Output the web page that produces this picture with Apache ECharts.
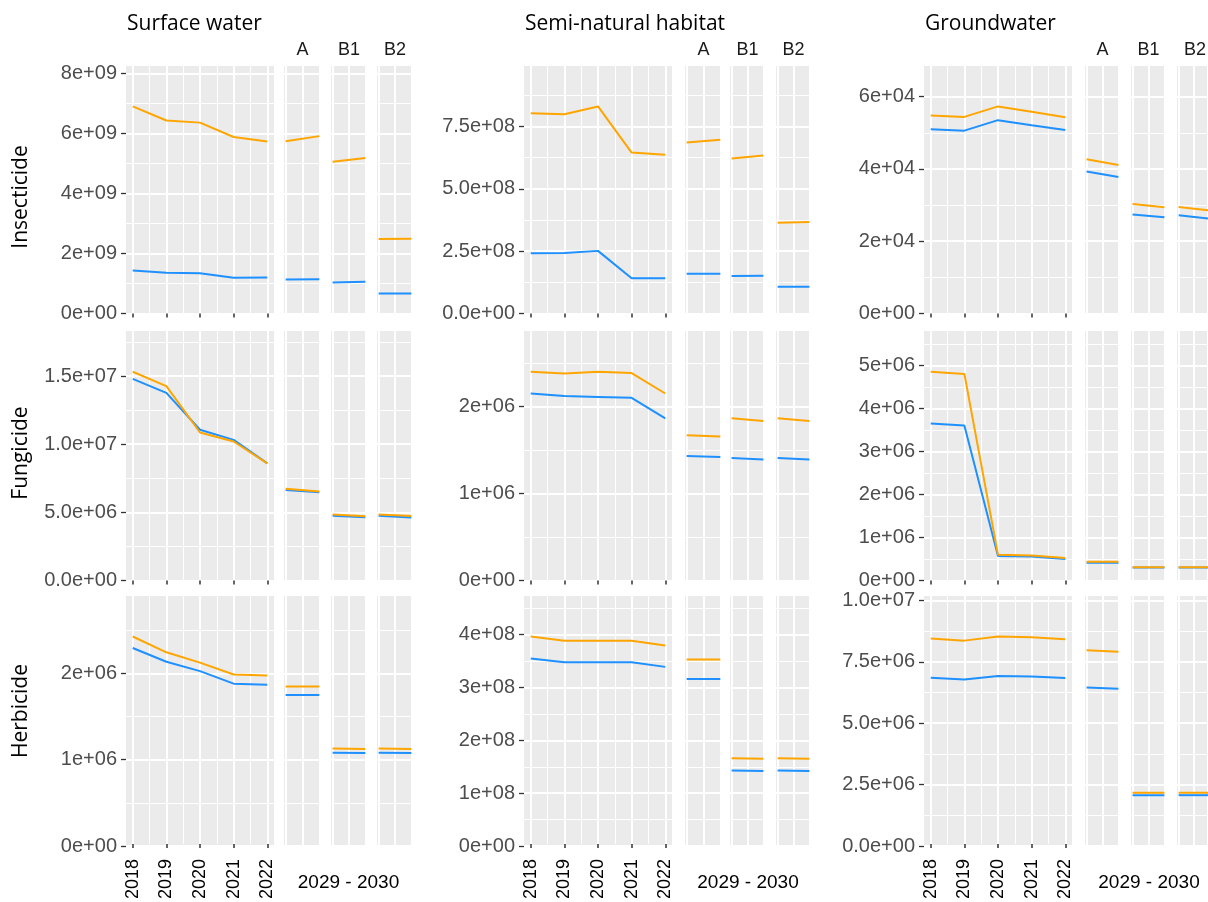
<!DOCTYPE html>
<html><head><meta charset="utf-8">
<script src="https://cdn.jsdelivr.net/npm/echarts@6/dist/echarts.min.js"></script>
<style>html,body{margin:0;padding:0;background:#fff}#c{width:1208px;height:902px}</style>
</head><body><div id="c"></div>
<script>
// ---------------- DATA ----------------
const compartments = ['Surface water', 'Semi-natural habitat', 'Groundwater'];
const pesticides = ['Insecticide', 'Fungicide', 'Herbicide'];
const scenarios = ['A', 'B1', 'B2'];
const years = [2018, 2019, 2020, 2021, 2022];
const scenarioYears = [2029, 2030];
const scenarioPeriodLabel = '2029 - 2030';

// each array: 2018..2022, then A (2029, 2030), B1 (2029, 2030), B2 (2029, 2030)
const swInsecticideOrange = [6.90e9, 6.43e9, 6.36e9, 5.88e9, 5.73e9, 5.74e9, 5.91e9, 5.06e9, 5.18e9, 2.48e9, 2.49e9];
const swInsecticideBlue   = [1.43e9, 1.36e9, 1.34e9, 1.19e9, 1.20e9, 1.13e9, 1.14e9, 1.03e9, 1.06e9, 0.67e9, 0.67e9];
const swFungicideOrange   = [15.32e6, 14.26e6, 10.86e6, 10.20e6, 8.60e6, 6.73e6, 6.54e6, 4.84e6, 4.72e6, 4.84e6, 4.73e6];
const swFungicideBlue     = [14.80e6, 13.77e6, 11.06e6, 10.32e6, 8.60e6, 6.64e6, 6.47e6, 4.75e6, 4.64e6, 4.75e6, 4.63e6];
const swHerbicideOrange   = [2.425e6, 2.24e6, 2.12e6, 1.98e6, 1.97e6, 1.85e6, 1.85e6, 1.13e6, 1.125e6, 1.13e6, 1.125e6];
const swHerbicideBlue     = [2.29e6, 2.13e6, 2.02e6, 1.874e6, 1.86e6, 1.75e6, 1.75e6, 1.08e6, 1.077e6, 1.08e6, 1.077e6];

const snInsecticideOrange = [8.03e8, 7.99e8, 8.30e8, 6.45e8, 6.36e8, 6.85e8, 6.96e8, 6.21e8, 6.33e8, 3.64e8, 3.67e8];
const snInsecticideBlue   = [2.41e8, 2.42e8, 2.51e8, 1.41e8, 1.41e8, 1.59e8, 1.59e8, 1.50e8, 1.51e8, 1.07e8, 1.07e8];
const snFungicideOrange   = [2.40e6, 2.38e6, 2.40e6, 2.385e6, 2.15e6, 1.67e6, 1.655e6, 1.865e6, 1.835e6, 1.865e6, 1.835e6];
const snFungicideBlue     = [2.15e6, 2.12e6, 2.11e6, 2.10e6, 1.865e6, 1.43e6, 1.42e6, 1.407e6, 1.39e6, 1.407e6, 1.39e6];
const snHerbicideOrange   = [3.96e8, 3.88e8, 3.88e8, 3.88e8, 3.79e8, 3.53e8, 3.53e8, 1.66e8, 1.65e8, 1.66e8, 1.65e8];
const snHerbicideBlue     = [3.54e8, 3.47e8, 3.47e8, 3.47e8, 3.38e8, 3.16e8, 3.16e8, 1.43e8, 1.42e8, 1.43e8, 1.42e8];

const gwInsecticideOrange = [5.48e4, 5.44e4, 5.73e4, 5.58e4, 5.43e4, 4.27e4, 4.11e4, 3.03e4, 2.94e4, 2.95e4, 2.86e4];
const gwInsecticideBlue   = [5.10e4, 5.06e4, 5.35e4, 5.21e4, 5.08e4, 3.93e4, 3.78e4, 2.74e4, 2.66e4, 2.72e4, 2.63e4];
const gwFungicideOrange   = [4.85e6, 4.80e6, 0.60e6, 0.58e6, 0.52e6, 0.435e6, 0.435e6, 0.31e6, 0.31e6, 0.31e6, 0.31e6];
const gwFungicideBlue     = [3.65e6, 3.60e6, 0.57e6, 0.56e6, 0.50e6, 0.41e6, 0.41e6, 0.30e6, 0.30e6, 0.30e6, 0.30e6];
const gwHerbicideOrange   = [8.44e6, 8.35e6, 8.52e6, 8.49e6, 8.41e6, 7.97e6, 7.91e6, 2.17e6, 2.17e6, 2.17e6, 2.17e6];
const gwHerbicideBlue     = [6.83e6, 6.75e6, 6.90e6, 6.88e6, 6.82e6, 6.46e6, 6.41e6, 2.07e6, 2.07e6, 2.07e6, 2.07e6];

// y tick values per [row = pesticide][col = compartment]
const yTicks = [
  [[0, 2e9, 4e9, 6e9, 8e9], [0, 2.5e8, 5e8, 7.5e8], [0, 2e4, 4e4, 6e4]],
  [[0, 5e6, 1e7, 1.5e7], [0, 1e6, 2e6], [0, 1e6, 2e6, 3e6, 4e6, 5e6]],
  [[0, 1e6, 2e6], [0, 1e8, 2e8, 3e8, 4e8], [0, 2.5e6, 5e6, 7.5e6, 1e7]]
];
const yTickDigits = [[0, 1, 0], [1, 0, 0], [0, 0, 1]];

// ---------------- LAYOUT ----------------
const cells = [
  [[swInsecticideOrange, swInsecticideBlue], [snInsecticideOrange, snInsecticideBlue], [gwInsecticideOrange, gwInsecticideBlue]],
  [[swFungicideOrange, swFungicideBlue], [snFungicideOrange, snFungicideBlue], [gwFungicideOrange, gwFungicideBlue]],
  [[swHerbicideOrange, swHerbicideBlue], [snHerbicideOrange, snHerbicideBlue], [gwHerbicideOrange, gwHerbicideBlue]]
];
const rowTop = [65, 330, 595];
const rowBottom = [313.5, 580.5, 846];
const panelX = [
  [[126, 274], [284, 321], [331, 367], [377, 413]],
  [[524, 672], [685, 722], [730, 765], [776, 811]],
  [[924, 1072], [1085, 1120], [1131, 1166], [1177, 1213]]
];
const rowTitleY = [197, 453, 711];
const ORANGE = '#FFA500', BLUE = '#1E90FF';
const BG = '#EBEBEB';

function sci(v, d) {
  const s = Number(v).toExponential(d);
  return s.replace(/e([+-])(\d+)$/, function (m, sg, ex) { return 'e' + sg + (ex.length < 2 ? '0' + ex : ex); });
}

const grid = [], xAxis = [], yAxis = [], series = [], graphic = [];

for (let r = 0; r < 3; r++) {
  for (let c = 0; c < 3; c++) {
    const [orange, blue] = cells[r][c];
    const ymax = 1.2 * Math.max.apply(null, orange.concat(blue));
    const ticks = yTicks[r][c];
    const step = ticks[1] - ticks[0];
    const digits = yTickDigits[r][c];
    for (let p = 0; p < 4; p++) {
      const [L, R] = panelX[c][p];
      const T = rowTop[r], B = rowBottom[r];
      const W = R - L, H = B - T, inset = W / 22;
      // background grid: gray panel + horizontal grid lines + y labels
      const gb = grid.length;
      grid.push({ left: L, top: T, width: W, height: H, show: true, backgroundColor: BG, borderWidth: 0, borderColor: 'transparent', containLabel: false });
      xAxis.push({ gridIndex: gb, type: 'value', min: 0, max: 1, show: false });
      // minor horizontal lines
      yAxis.push({ gridIndex: gb, type: 'value', position: 'left', offset: 0, min: 0, max: ymax, interval: step / 2,
        axisLine: { show: false }, axisTick: { show: false }, axisLabel: { show: false },
        splitLine: { show: true, lineStyle: { color: '#FFFFFF', width: 1 } } });
      // major horizontal lines + labels
      yAxis.push({ gridIndex: gb, type: 'value', position: 'left', offset: 0, min: 0, max: ymax, interval: step,
        axisLine: { show: false },
        axisTick: { show: p === 0, length: 5, customValues: ticks, lineStyle: { color: '#333333', width: 1.3 } },
        axisLabel: { show: p === 0, customValues: ticks, hideOverlap: false, margin: 9, color: '#4D4D4D', fontSize: 20, fontFamily: 'Liberation Sans, Arial, sans-serif',
          formatter: (v) => sci(v, digits) },
        splitLine: { show: true, lineStyle: { color: '#FFFFFF', width: 2 } } });
      // data grid (inset for x expansion)
      const gd = grid.length;
      grid.push({ left: L + inset, top: T, width: W - 2 * inset, height: H, show: false, containLabel: false });
      const isMain = p === 0;
      xAxis.push({ gridIndex: gd, type: 'value', position: 'bottom',
        min: isMain ? years[0] : scenarioYears[0],
        max: isMain ? years[years.length - 1] : scenarioYears[1],
        interval: isMain ? 1 : 0.5,
        axisLine: { show: false },
        axisTick: { show: isMain, length: 4, lineStyle: { color: '#333333', width: 1.5 } },
        axisLabel: { show: isMain && r === 2, rotate: 90, margin: 15, color: '#000000', fontSize: 18, fontFamily: 'Liberation Sans, Arial, sans-serif', formatter: (v) => String(v) },
        splitLine: { show: true, lineStyle: { color: '#FFFFFF', width: 2 } },
        minorTick: { show: false, splitNumber: 2 },
        minorSplitLine: { show: isMain, lineStyle: { color: '#FFFFFF', width: 1 } } });
      const yd = yAxis.length;
      yAxis.push({ gridIndex: gd, type: 'value', position: 'left', min: 0, max: ymax, show: false });
      const xi = xAxis.length - 1;
      let xs, idx0;
      if (isMain) { xs = years; idx0 = 0; } else { xs = scenarioYears; idx0 = 5 + (p - 1) * 2; }
      [[blue, BLUE], [orange, ORANGE]].forEach(([arr, col]) => {
        series.push({ type: 'line', xAxisIndex: xi, yAxisIndex: yd, symbol: 'none', silent: true,
          lineStyle: { color: col, width: 2 }, itemStyle: { color: col },
          data: xs.map((x, k) => [x, arr[idx0 + k]]) });
      });
    }
  }
}

// titles
for (let c = 0; c < 3; c++) {
  graphic.push({ type: 'text', x: panelX[c][0][0] + 1, y: 24, silent: true,
    style: { text: compartments[c], font: '21px "Open Sans", sans-serif', fill: '#000', align: 'left', verticalAlign: 'middle' } });
  for (let s = 0; s < 3; s++) {
    const [L, R] = panelX[c][s + 1];
    graphic.push({ type: 'text', x: (L + R) / 2, y: 50, silent: true,
      style: { text: scenarios[s], font: '18px "Liberation Sans", Arial, sans-serif', fill: '#1A1A1A', align: 'center', verticalAlign: 'middle' } });
  }
  const sx = (panelX[c][1][0] + panelX[c][3][1]) / 2;
  graphic.push({ type: 'text', x: sx, y: 883, silent: true,
    style: { text: scenarioPeriodLabel, font: '19px "Liberation Sans", Arial, sans-serif', fill: '#000', align: 'center', verticalAlign: 'middle' } });
}
for (let r = 0; r < 3; r++) {
  graphic.push({ type: 'text', x: 21, y: rowTitleY[r], rotation: Math.PI / 2, silent: true,
    style: { text: pesticides[r], font: '21px "Open Sans", sans-serif', fill: '#000', align: 'center', verticalAlign: 'middle' } });
}

const chart = echarts.init(document.getElementById('c'), null, { renderer: 'canvas' });
chart.setOption({ animation: false, backgroundColor: '#FFFFFF', grid, xAxis, yAxis, series, graphic });
</script>
</body></html>
